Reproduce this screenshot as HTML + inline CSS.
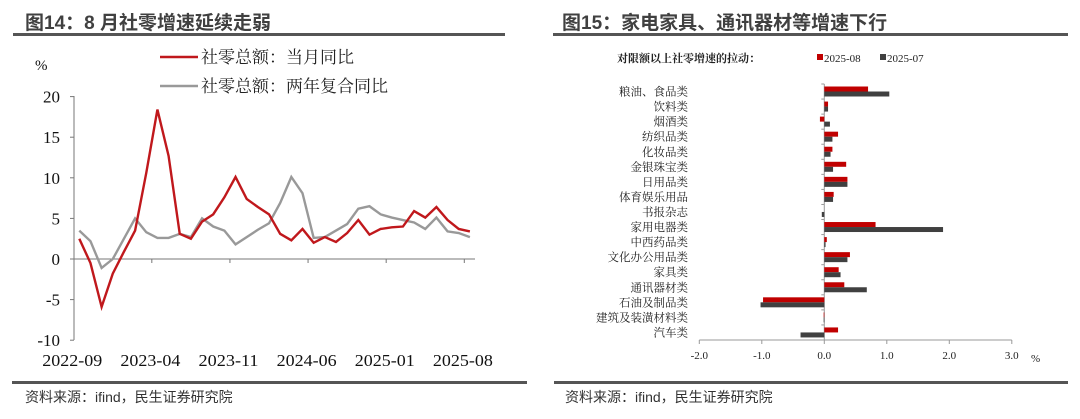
<!DOCTYPE html>
<html><head><meta charset="utf-8">
<style>
body{margin:0;width:1080px;height:419px;background:#fff;overflow:hidden;position:relative;font-family:"Liberation Sans","Noto Sans CJK SC",sans-serif;}
.t{position:absolute;font-weight:bold;font-size:19px;color:#404040;top:8px;white-space:nowrap}
.hl{position:absolute;height:3px;background:#555}
.src{position:absolute;top:387px;font-size:14px;color:#333;white-space:nowrap}
svg{position:absolute;left:0;top:0}
</style></head><body>
<div class="t" style="left:25px">图14：8 月社零增速延续走弱</div>
<div class="t" style="left:562px">图15：家电家具、通讯器材等增速下行</div>
<div class="hl" style="left:13px;width:492px;top:33px"></div>
<div class="hl" style="left:553px;width:515px;top:33px"></div>
<div class="hl" style="left:12px;width:515px;top:381px"></div>
<div class="hl" style="left:554px;width:514px;top:381px"></div>
<div class="src" style="left:25px">资料来源：ifind，民生证券研究院</div>
<div class="src" style="left:565px">资料来源：ifind，民生证券研究院</div>
<svg id="chart" width="1080" height="419"></svg>
<script>
const months=["2022-09","2022-10","2022-11","2022-12","2023-01","2023-02","2023-03","2023-04","2023-05","2023-06","2023-07","2023-08","2023-09","2023-10","2023-11","2023-12","2024-01","2024-02","2024-03","2024-04","2024-05","2024-06","2024-07","2024-08","2024-09","2024-10","2024-11","2024-12","2025-01","2025-02","2025-03","2025-04","2025-05","2025-06","2025-07","2025-08"];
const yoy=[2.5,-0.5,-5.9,-1.8,0.9,3.5,10.6,18.4,12.7,3.1,2.5,4.6,5.5,7.6,10.1,7.4,6.4,5.5,3.1,2.3,3.7,2.0,2.7,2.1,3.2,4.8,3.0,3.7,3.9,4.0,5.9,5.1,6.4,4.8,3.7,3.4];
const twoYear=[3.5,2.2,-1.1,0.0,2.5,5.0,3.3,2.6,2.6,3.1,2.7,5.0,4.0,3.5,1.8,2.7,3.6,4.4,6.9,10.1,8.1,2.6,2.7,3.5,4.3,6.2,6.5,5.5,5.1,4.8,4.5,3.7,5.1,3.4,3.2,2.7];
const yTicks=[20,15,10,5,0,-5,-10];
const xTickLabels=["2022-09","2023-04","2023-11","2024-06","2025-01","2025-08"];
const cats=["粮油、食品类","饮料类","烟酒类","纺织品类","化妆品类","金银珠宝类","日用品类","体育娱乐用品","书报杂志","家用电器类","中西药品类","文化办公用品类","家具类","通讯器材类","石油及制品类","建筑及装潢材料类","汽车类"];
const aug=[0.70,0.06,-0.07,0.22,0.13,0.35,0.37,0.15,0.00,0.82,0.04,0.41,0.23,0.32,-0.98,-0.01,0.22];
const jul=[1.04,0.06,0.09,0.13,0.10,0.14,0.37,0.14,-0.04,1.90,0.02,0.37,0.26,0.68,-1.02,-0.01,-0.38];
const xTicksR=[-2,-1,0,1,2,3];

const svg=document.getElementById('chart');const NS="http://www.w3.org/2000/svg";
function mk(t,a,txt){const e=document.createElementNS(NS,t);for(const k in a)e.setAttribute(k,a[k]);if(txt!==undefined)e.textContent=txt;svg.appendChild(e);return e;}
const serif='"Liberation Serif","Noto Serif CJK SC",serif';
const cjk='"Liberation Serif","Noto Serif CJK SC",serif';
// left chart
const ly=v=>259-v*8.12;
const lx=i=>79.3+i*11.16;
let e=mk('line',{x1:74,y1:96,x2:74,y2:340,stroke:'#777'});

yTicks.forEach(v=>{
 let t=mk('line',{x1:70,y1:ly(v),x2:74,y2:ly(v),stroke:'#777'});
 
 let l=mk('text',{x:60,y:ly(v)+6,'text-anchor':'end','font-size':17,'font-family':serif,fill:'#111'},String(v));
 
});
e=mk('line',{x1:74,y1:ly(0),x2:475,y2:ly(0),stroke:'#777'});

[1,2,3,4,5].forEach(k=>{const x=lx(k*7)-5.6;let t=mk('line',{x1:x,y1:ly(0),x2:x,y2:ly(0)+4,stroke:'#777'});
 });
xTickLabels.forEach((s,k)=>{let l=mk('text',{x:lx(k*7)-7,y:366,'text-anchor':'middle','font-size':17,'font-family':serif,fill:'#111',textLength:60,lengthAdjust:'spacingAndGlyphs'},s);
 });
e=mk('text',{x:35,y:70,'font-size':15,'font-family':serif,fill:'#111'},'%');

e=mk('polyline',{points:twoYear.map((v,i)=>lx(i)+','+ly(v)).join(' '),fill:'none',stroke:'#999','stroke-width':2.4});

e=mk('polyline',{points:yoy.map((v,i)=>lx(i)+','+ly(v)).join(' '),fill:'none',stroke:'#c0181c','stroke-width':2.4});

e=mk('line',{x1:160,y1:57,x2:198,y2:57,stroke:'#c0181c','stroke-width':2.4});

e=mk('text',{x:201,y:63,'font-size':17,'font-family':cjk,fill:'#222'},'社零总额：当月同比');

e=mk('line',{x1:160,y1:86,x2:198,y2:86,stroke:'#999','stroke-width':2.4});

e=mk('text',{x:201,y:92,'font-size':17,'font-family':cjk,fill:'#222'},'社零总额：两年复合同比');

// right chart
const rx=v=>824.3+v*62.5;
const band=(340-84)/cats.length;
e=mk('text',{x:617,y:62,'font-size':11,'font-weight':'bold','font-family':cjk,fill:'#222'},'对限额以上社零增速的拉动：');

e=mk('rect',{x:817,y:54,width:6,height:6,fill:'#c00000'});

e=mk('text',{x:824,y:62,'font-size':11,'font-family':serif,fill:'#222'},'2025-08');

e=mk('rect',{x:880,y:54,width:6,height:6,fill:'#404040'});

e=mk('text',{x:887,y:62,'font-size':11,'font-family':serif,fill:'#222'},'2025-07');

e=mk('line',{x1:rx(0),y1:84,x2:rx(0),y2:340,stroke:'#999'});

e=mk('line',{x1:rx(-2),y1:340,x2:rx(3),y2:340,stroke:'#999'});

xTicksR.forEach(v=>{let t=mk('line',{x1:rx(v),y1:340,x2:rx(v),y2:344,stroke:'#999'});
 
 let l=mk('text',{x:rx(v),y:359,'text-anchor':'middle','font-size':11,'font-family':serif,fill:'#222'},v.toFixed(1));
 });
e=mk('text',{x:1031,y:362,'font-size':11,'font-family':serif,fill:'#222'},'%');

cats.forEach((c,i)=>{
 const y0=84+i*band;
 let t=mk('line',{x1:rx(0)-3,y1:y0,x2:rx(0),y2:y0,stroke:'#999'});
 
 let l=mk('text',{x:688,y:y0+band/2+4,'text-anchor':'end','font-size':11.5,'font-family':cjk,fill:'#222'},c);
 
 let a=aug[i];let r=mk('rect',{x:Math.min(rx(0),rx(a)),y:y0+2.5,width:Math.abs(rx(a)-rx(0)),height:5,fill:'#c00000'});
 
 let b=jul[i];let g=mk('rect',{x:Math.min(rx(0),rx(b)),y:y0+7.5,width:Math.abs(rx(b)-rx(0)),height:5,fill:'#404040'});
 
});
</script>
</body></html>
